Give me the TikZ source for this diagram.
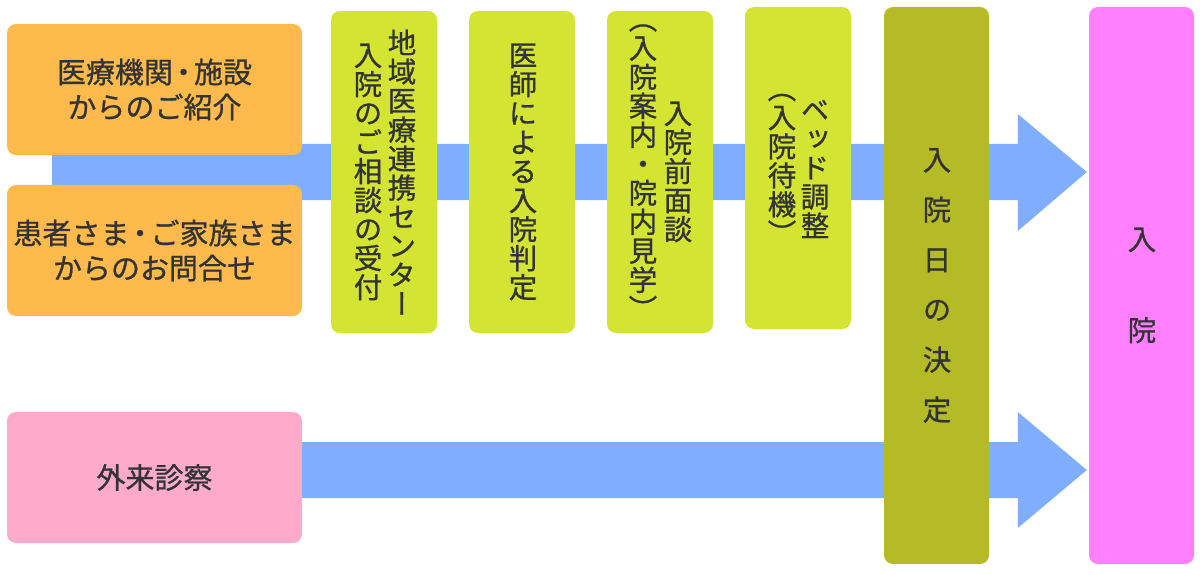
\documentclass[tikz,border=0pt]{standalone}
\usepackage{fontspec}
\usetikzlibrary{backgrounds}
\newfontfamily\jp[FakeBold=0.8]{Noto Sans CJK JP}
\newfontfamily\vjp[RawFeature=+vert,FakeBold=0.8]{Noto Sans CJK JP}
\newcommand{\ndot}{\kern-4pt・\kern-4pt}
\definecolor{orangec}{HTML}{FEBA4D}
\definecolor{pinkc}{HTML}{FDAACB}
\definecolor{bandc}{HTML}{80AEFF}
\definecolor{limec}{HTML}{D4E433}
\definecolor{olivec}{HTML}{B5BA27}
\definecolor{magc}{HTML}{FF80FF}
\definecolor{txt}{HTML}{333333}
\begin{document}
\begin{tikzpicture}[x=1pt,y=-1pt,
  box/.style={rounded corners=9pt, inner sep=0pt, text=txt, align=center,
    font=\jp\fontsize{29}{35}\selectfont},
  obox/.style={box, fill=orangec, minimum width=295pt, minimum height=131pt},
  pbox/.style={box, fill=pinkc, minimum width=295pt, minimum height=131pt},
  gbox/.style={box, fill=limec, minimum width=106pt, minimum height=322pt},
  tallbox/.style={box, minimum width=105pt, minimum height=557pt},
  vcol/.style={inner sep=0pt, text=txt, align=center,
    font=\vjp\fontsize{28.5}{29}\selectfont},
  band/.style={fill=bandc}
]
\useasboundingbox (0,0) rectangle (1200,575);

% left sources
\node[obox] (r1) at (154.5,89.5) {医療機関\ndot 施設\\からのご紹介};
\node[obox] (r2) at (154.5,250.5) {患者さま\ndot ご家族さま\\からのお問合せ};
\node[pbox] (op) at (154.5,477.5) {外来診察};

% green steps
\node[gbox] (g1) at (384,172) {};
\node[gbox] (g2) at (522,172) {};
\node[gbox] (g3) at (660,172) {};
\node[gbox] (g4) at (798,168) {};

\node[vcol] (g1a) at (402,172) {地\\域\\医\\療\\連\\携\\セ\\ン\\タ\\ー};
\node[vcol] (g1b) at (368,172) {入\\院\\の\\ご\\相\\談\\の\\受\\付};
\node[vcol] (g2a) at (523,172) {医\\師\\に\\よ\\る\\入\\院\\判\\定};
\node[vcol] (g3a) at (678,172) {入\\院\\前\\面\\談};
\node[vcol] (g3b) at (643,172) {（\\入\\院\\案\\内\\・\\院\\内\\見\\学\\）};
\node[vcol] (g4a) at (815,169) {ベ\\ッ\\ド\\調\\整};
\node[vcol] (g4b) at (782,169) {（\\入\\院\\待\\機\\）};

% decision and admission
\node[tallbox, fill=olivec] (dec) at (936.5,285.5) {};
\node[vcol, font=\vjp\fontsize{28.5}{50}\selectfont] (deca) at (937,285.5) {入\\院\\日\\の\\決\\定};
\node[tallbox, fill=magc] (adm) at (1141.5,285.5) {};
\node[vcol, font=\vjp\fontsize{28.5}{91}\selectfont] (adma) at (1142,285.5) {入\\院};

% flow bands
\coordinate (s1) at (52,172);
\coordinate (t1) at ([xshift=-2pt]adm.west |- s1);
\coordinate (s2) at (op.center |- 0,470);
\coordinate (t2) at ([xshift=-2pt]adm.west |- s2);
\begin{scope}[on background layer]
\fill[band] ([yshift=-28pt]s1) -- ([xshift=-69pt,yshift=-28pt]t1) -- ([xshift=-69pt,yshift=-59pt]t1)
  -- (t1) -- ([xshift=-69pt,yshift=58pt]t1) -- ([xshift=-69pt,yshift=28pt]t1) -- ([yshift=28pt]s1) -- cycle;
\fill[band] ([yshift=-28pt]s2) -- ([xshift=-69pt,yshift=-28pt]t2) -- ([xshift=-69pt,yshift=-58pt]t2)
  -- (t2) -- ([xshift=-69pt,yshift=58pt]t2) -- ([xshift=-69pt,yshift=28pt]t2) -- ([yshift=28pt]s2) -- cycle;
\end{scope}
\end{tikzpicture}
\end{document}
